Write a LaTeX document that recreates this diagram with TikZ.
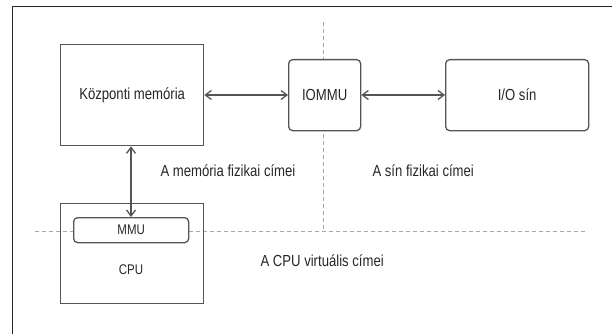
\documentclass[tikz,border=0pt]{standalone}
\usepackage{fontspec}
\setmainfont{Liberation Sans}[FakeStretch=0.82]
\usetikzlibrary{arrows.meta}
\definecolor{boxgray}{HTML}{555555}
\definecolor{dashgray}{HTML}{A8A8A8}
\begin{document}
\begin{tikzpicture}[x=1pt,y=-1pt,
  blk/.style={draw=boxgray,line width=1.3pt,fill=white,inner sep=0pt},
  rblk/.style={blk,rounded corners=4pt},
  conn/.style={draw=boxgray,line width=1.3pt,{Straight Barb[length=6pt,width=9pt]}-{Straight Barb[length=6pt,width=9pt]}},
  sep/.style={draw=dashgray,line width=1pt,dash pattern=on 4pt off 3pt},
  lbl/.style={font=\fontsize{16}{18}\selectfont,text=black!85},
  slbl/.style={font=\fontsize{14}{16}\selectfont,text=black!85}]
\useasboundingbox (0,0) rectangle (612,334);
\draw[line width=1.2pt,black!85] (12.5,334) -- (12.5,6.5) -- (612,6.5);
% separators
\draw[sep] (323,22) -- (323,231);
\draw[sep] (35,231) -- (588,231);
% boxes
\node[blk,minimum width=143pt,minimum height=101pt,anchor=north west] (mem) at (60,44) {};
\node[lbl] at (mem.center) {Központi memória};
\node[rblk,minimum width=72pt,minimum height=71pt,anchor=north west] (iommu) at (288,59) {};
\node[lbl] at (iommu.center) {IOMMU};
\node[rblk,minimum width=143pt,minimum height=71pt,anchor=north west] (io) at (445,59) {};
\node[lbl] at (io.center) {I/O sín};
\node[blk,fill=none,minimum width=143pt,minimum height=100pt,anchor=north west] (cpu) at (60,203) {};
\node[slbl] (cpulbl) at (131,270) {CPU};
\node[rblk,minimum width=115pt,minimum height=25pt,anchor=north west] (mmu) at (73,217) {};
\node[slbl] at (mmu.center) {MMU};
% connectors
\draw[conn] (mem.east |- 0,95) -- (iommu.west |- 0,95);
\draw[conn] (iommu.east |- 0,95) -- (io.west |- 0,95);
\draw[conn] (mem.south -| 131,0) -- (mmu.north -| 131,0);
% labels
\node[lbl,anchor=west] (l1) at (157,171) {A memória fizikai címei};
\node[lbl,anchor=west] (l2) at (369,171) {A sín fizikai címei};
\node[lbl,anchor=west] (l3) at (257,261) {A CPU virtuális címei};
\end{tikzpicture}
\end{document}
